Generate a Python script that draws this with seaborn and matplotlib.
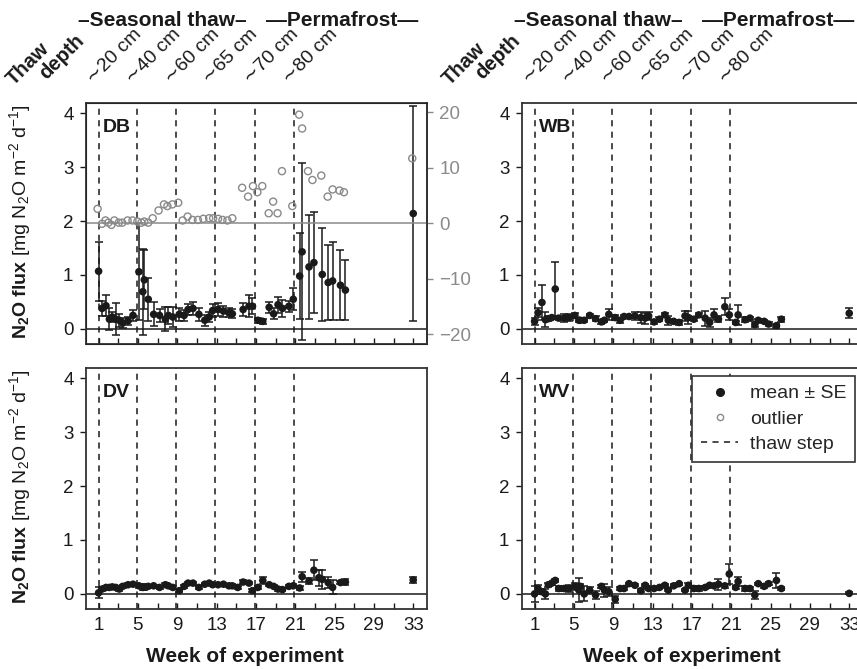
import numpy as np
import pandas as pd
import matplotlib
matplotlib.use("Agg")
import matplotlib.pyplot as plt
import matplotlib.transforms as mtransforms
from matplotlib.lines import Line2D
from matplotlib.ticker import FixedLocator
import seaborn as sns

nan = np.nan

# sampling weeks shared by all four cores
weeks = [1.0, 1.35, 1.75, 2.1, 2.4, 2.75, 3.1, 3.45, 4.0, 4.5,
         5.1, 5.5, 5.65, 6.05, 6.6, 7.2, 7.8, 8.1, 8.55, 9.2,
         9.7, 10.1, 10.6, 11.2, 11.8, 12.25, 12.6, 13.15, 13.7, 14.25,
         14.6, 15.15, 15.7, 16.3, 16.65, 17.2, 17.7, 18.35, 18.8, 19.25,
         19.7, 20.35, 20.8, 21.45, 21.7, 22.4, 22.9, 23.4, 23.75, 24.35,
         24.8, 25.6, 26.1, 33.0]

db_mean = [1.07, 0.38, 0.43, 0.18, 0.22, 0.18, 0.16, 0.11, 0.15, 0.25,
           1.06, 0.69, 0.91, 0.55, 0.27, 0.25, 0.18, 0.25, 0.22, 0.27,
           0.25, 0.36, 0.38, 0.27, 0.16, 0.22, 0.34, 0.36, 0.33, 0.30,
           0.28, nan, 0.36, 0.42, 0.42, 0.16, 0.14, 0.40, 0.28, 0.45,
           0.38, 0.42, 0.55, 0.98, 1.43, 1.15, 1.23, nan, 1.01, 0.86,
           0.89, 0.81, 0.72, 2.14]
db_se = [0.55, 0.14, 0.19, 0.20, 0.10, 0.30, 0.12, 0.10, 0.08, 0.10,
         0.90, 0.80, 0.55, 0.40, 0.22, 0.12, 0.22, 0.15, 0.18, 0.12,
         0.10, 0.10, 0.12, 0.12, 0.10, 0.10, 0.12, 0.12, 0.10, 0.08,
         0.08, nan, 0.12, 0.20, 0.15, 0.05, 0.05, 0.10, 0.10, 0.15,
         0.15, 0.10, 0.20, 0.80, 1.64, 0.97, 0.94, nan, 0.87, 0.70,
         0.72, 0.65, 0.56, 1.99]

wb_mean = [0.14, 0.30, 0.49, 0.17, 0.19, 0.21, 0.74, 0.20, 0.20, 0.21,
           0.25, 0.16, 0.16, 0.16, 0.25, 0.19, 0.13, 0.16, 0.27, 0.21,
           0.16, 0.23, 0.23, 0.24, 0.21, 0.20, 0.24, 0.13, 0.18, 0.26,
           0.16, 0.14, 0.12, 0.24, 0.21, 0.18, 0.26, 0.20, 0.12, 0.26,
           0.18, 0.41, 0.26, 0.12, 0.26, 0.17, 0.20, 0.08, 0.16, 0.14,
           0.09, 0.06, 0.18, 0.29]
wb_se = [0.06, 0.08, 0.33, 0.14, 0.05, 0.03, 0.50, 0.03, 0.07, 0.06,
         0.05, 0.04, 0.03, 0.03, 0.03, 0.05, 0.04, 0.03, 0.10, 0.04,
         0.05, 0.03, 0.03, 0.07, 0.10, 0.10, 0.07, 0.04, 0.04, 0.03,
         0.08, 0.03, 0.04, 0.10, 0.12, 0.03, 0.04, 0.14, 0.08, 0.10,
         0.06, 0.16, 0.10, 0.03, 0.19, 0.05, 0.03, 0.04, 0.03, 0.03,
         0.03, 0.04, 0.05, 0.09]

dv_mean = [0.02, 0.09, 0.12, 0.12, 0.13, 0.12, 0.09, 0.14, 0.17, 0.18,
           0.15, 0.12, 0.13, 0.14, 0.15, 0.12, 0.17, 0.15, 0.12, 0.06,
           0.14, 0.20, 0.20, 0.12, 0.18, 0.20, 0.17, 0.17, 0.18, 0.15,
           0.15, 0.12, 0.22, 0.20, 0.06, 0.12, 0.25, 0.17, 0.14, 0.09,
           0.08, 0.14, 0.15, 0.11, 0.32, 0.24, 0.44, 0.30, 0.27, 0.21,
           0.12, 0.21, 0.22, 0.26]
dv_se = [0.10, 0.04, 0.03, 0.02, 0.02, 0.02, 0.03, 0.03, 0.03, 0.02,
         0.04, 0.04, 0.05, 0.03, 0.02, 0.03, 0.03, 0.02, 0.02, 0.03,
         0.03, 0.02, 0.02, 0.02, 0.02, 0.02, 0.03, 0.03, 0.02, 0.03,
         0.03, 0.03, 0.03, 0.02, 0.03, 0.02, 0.06, 0.02, 0.02, 0.03,
         0.03, 0.03, 0.03, 0.03, 0.09, 0.05, 0.19, 0.15, 0.18, 0.10,
         0.13, 0.03, 0.05, 0.05]

wv_mean = [0.00, 0.10, 0.04, 0.00, 0.17, 0.20, 0.25, 0.10, 0.10, 0.10,
           0.14, 0.07, 0.14, 0.00, 0.07, -0.02, 0.14, 0.07, 0.04, -0.10,
           0.10, 0.10, 0.19, 0.16, 0.06, 0.16, 0.10, 0.10, 0.12, 0.16,
           0.07, 0.15, 0.19, 0.07, 0.16, 0.10, 0.10, 0.12, 0.16, 0.15,
           0.18, 0.15, 0.37, 0.12, 0.23, 0.10, 0.10, -0.02, 0.19, 0.14,
           0.19, 0.25, 0.10, 0.01]
wv_se = [0.15, 0.06, 0.05, 0.10, 0.04, 0.03, 0.02, 0.05, 0.05, 0.06,
         0.06, 0.22, 0.05, 0.14, 0.06, 0.07, 0.03, 0.12, 0.08, 0.06,
         0.03, 0.02, 0.02, 0.02, 0.03, 0.02, 0.02, 0.02, 0.02, 0.02,
         0.02, 0.03, 0.02, 0.02, 0.05, 0.04, 0.04, 0.02, 0.02, 0.03,
         0.10, 0.04, 0.18, 0.03, 0.09, 0.04, 0.03, 0.08, 0.02, 0.03,
         0.03, 0.14, 0.03, 0.02]

# DB outliers, plotted on the right-hand axis
db_out_weeks = [0.9, 1.35, 1.7, 2.0, 2.3, 2.6, 3.05, 3.4, 3.95, 4.45,
                4.95, 5.35, 5.65, 6.05, 6.5, 7.1, 7.65, 8.0, 8.5, 9.1,
                9.55, 10.05, 10.55, 11.1, 11.65, 12.25, 12.65, 13.15, 13.6, 14.1,
                14.6, 15.6, 16.2, 16.7, 17.15, 17.65, 18.3, 18.75, 19.2, 19.65,
                20.7, 21.4, 21.7, 22.3, 22.75, 23.65, 24.3, 24.8, 25.5, 25.95,
                32.9]
db_out_vals = [2.6, -0.1, 0.5, 0.1, -0.3, 0.5, 0.1, 0.1, 0.5, 0.5,
               0.3, 0.1, 0.3, 0.1, 0.9, 2.3, 3.4, 3.1, 3.4, 3.7,
               0.5, 1.2, 0.6, 0.6, 0.8, 0.9, 0.9, 0.8, 0.6, 0.5,
               0.9, 6.4, 4.8, 6.7, 5.6, 6.7, 1.8, 3.9, 1.8, 9.4,
               3.1, 19.6, 17.1, 9.4, 7.8, 8.6, 4.8, 6.1, 5.9, 5.6,
               11.7]

thaw_weeks = [1.0, 4.9, 8.9, 12.8, 16.9, 20.9]
depth_labels = ["\u223c20 cm", "\u223c40 cm", "\u223c60 cm", "\u223c65 cm",
                "\u223c70 cm", "\u223c80 cm"]
major_ticks = [1, 5, 9, 13, 17, 21, 25, 29, 33]
minor_ticks = [3, 7, 11, 15, 19, 23, 27, 31]
right_ticks = [-20, -10, 0, 10, 20]

sns.set_style("ticks")
plt.rcParams["font.family"] = ["Liberation Sans", "DejaVu Sans"]
plt.rcParams["mathtext.fontset"] = "custom"
plt.rcParams["mathtext.rm"] = "Liberation Sans"
plt.rcParams["mathtext.bf"] = "Liberation Sans:bold"
plt.rcParams["mathtext.it"] = "Liberation Sans:italic"

INK = "#1a1a1a"
GREY = "#8a8a8a"
DASH = (0, (4, 3.5))

W, H = 857, 669
fig = plt.figure(figsize=(W / 100, H / 100), dpi=100)


def fx(px):
    return px / W


def fy(py):
    return 1 - py / H


def px_box(x0, y0, x1, y1):
    return [x0 / W, 1 - y1 / H, (x1 - x0) / W, (y1 - y0) / H]


def draw_panel(ax, mean, se, label, bottom_row):
    df = pd.DataFrame({"week": weeks, "flux": mean, "se": se}).dropna()
    for w in thaw_weeks:
        ax.axvline(w, color=INK, lw=1.1, ls=DASH, zorder=1)
    ax.axhline(0, color=INK, lw=1.1, zorder=1)
    ax.errorbar(df["week"], df["flux"], yerr=df["se"], fmt="none",
                ecolor=INK, elinewidth=1.1, capsize=3, capthick=1.1, zorder=3)
    sns.scatterplot(data=df, x="week", y="flux", ax=ax, color=INK, s=30,
                    edgecolor="none", zorder=4, legend=False)
    ax.set_xlim(-0.28, 34.4)
    ax.set_ylim(-0.28, 4.19)
    ax.set_xlabel("")
    ax.set_ylabel("")
    ax.xaxis.set_major_locator(FixedLocator(major_ticks))
    ax.xaxis.set_minor_locator(FixedLocator(minor_ticks))
    ax.set_yticks([0, 1, 2, 3, 4])
    ax.tick_params(axis="x", which="both", direction="in", length=4, width=1,
                   labelsize=13.5, labelbottom=bottom_row, pad=6, colors=INK)
    ax.tick_params(axis="y", direction="out", length=4, width=1, labelsize=13.5,
                   pad=5, colors=INK)
    for sp in ax.spines.values():
        sp.set_linewidth(1.3)
        sp.set_color("#333333")
    ax.text(0.05, 0.898, label, transform=ax.transAxes, fontsize=14,
            fontweight="bold", ha="left", va="center", color=INK, zorder=5)


ax_db = fig.add_axes(px_box(86, 103, 427, 344))
ax_wb = fig.add_axes(px_box(522, 103, 863, 344))
ax_dv = fig.add_axes(px_box(86, 368, 427, 609))
ax_wv = fig.add_axes(px_box(522, 368, 863, 609))

draw_panel(ax_db, db_mean, db_se, "DB", False)
draw_panel(ax_wb, wb_mean, wb_se, "WB", False)
draw_panel(ax_dv, dv_mean, dv_se, "DV", True)
draw_panel(ax_wv, wv_mean, wv_se, "WV", True)

# outliers on a second scale for DB
ax_r = ax_db.twinx()
ax_r.set_ylim(-21.8, 21.7)
ax_r.axhline(0, color=GREY, lw=1.1, zorder=1)
sns.scatterplot(x=db_out_weeks, y=db_out_vals, ax=ax_r, s=26,
                facecolor="none", edgecolor=GREY, linewidth=1.0, zorder=2,
                legend=False)
ax_r.set_yticks(right_ticks)
ax_r.tick_params(axis="y", direction="out", length=4, width=1, labelsize=13.5,
                 pad=5, colors=GREY)
ax_r.spines["right"].set_color("#333333")
ax_r.spines["right"].set_linewidth(1.3)

# header: thaw depth and phases
for ax, off in ((ax_db, 0), (ax_wb, 436)):
    fig.text(fx(162 + off), fy(20), "\u2013Seasonal thaw\u2013", ha="center",
             va="center", fontsize=15, fontweight="bold", color=INK)
    fig.text(fx(342 + off), fy(20), "\u2014Permafrost\u2014", ha="center",
             va="center", fontsize=15, fontweight="bold", color=INK)
    fig.text(fx(14 + off), fy(86), "Thaw", rotation=45, rotation_mode="anchor",
             ha="left", va="baseline", fontsize=14.5, fontweight="bold", color=INK)
    fig.text(fx(46 + off), fy(80), "depth", rotation=45, rotation_mode="anchor",
             ha="left", va="baseline", fontsize=14.5, fontweight="bold", color=INK)
    trans = mtransforms.blended_transform_factory(ax.transData, fig.transFigure)
    for w, lab in zip(thaw_weeks, depth_labels):
        ax.text(w - 0.55, fy(84), lab, transform=trans, rotation=45,
                rotation_mode="anchor", ha="left", va="baseline", fontsize=14,
                family=["Liberation Sans", "DejaVu Sans"], color=INK,
                clip_on=False)

ylab = r"$\mathbf{N_2O\ flux}$ [mg N$_2$O m$^{-2}$ d$^{-1}$]"
fig.text(fx(20), fy(222), ylab, rotation=90, ha="center", va="center",
         fontsize=14, color=INK)
fig.text(fx(20), fy(487), ylab, rotation=90, ha="center", va="center",
         fontsize=14, color=INK)
fig.text(fx(245), fy(656), "Week of experiment", ha="center", va="center",
         fontsize=15, fontweight="bold", color=INK)
fig.text(fx(682), fy(656), "Week of experiment", ha="center", va="center",
         fontsize=15, fontweight="bold", color=INK)

handles = [
    Line2D([], [], marker="o", ls="none", color=INK, markersize=5.5),
    Line2D([], [], marker="o", ls="none", mfc="none", mec=GREY, markersize=4.5),
    Line2D([], [], color=INK, ls=DASH, lw=1.1),
]
leg = fig.legend(handles, ["mean \u00b1 SE", "outlier", "thaw step"],
                 loc="upper right", bbox_to_anchor=(fx(855), fy(376)),
                 borderaxespad=0, frameon=True, fancybox=False,
                 edgecolor="#333333", framealpha=1, fontsize=14,
                 handlelength=1.9, handletextpad=0.6, borderpad=0.45,
                 labelspacing=0.4)
leg.get_frame().set_linewidth(1.2)

fig.savefig("out.png", dpi=100)
